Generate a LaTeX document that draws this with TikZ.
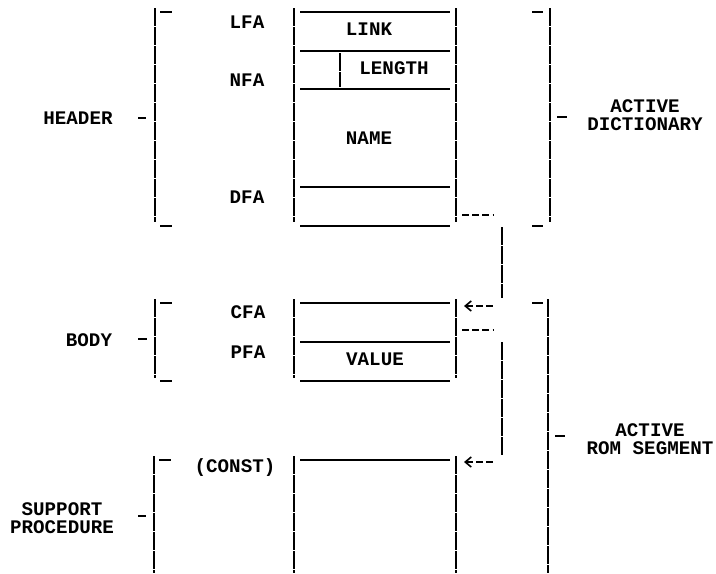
\documentclass[tikz,border=0pt]{standalone}
\usepackage{fontspec}
\setmonofont{Liberation Mono}
\usetikzlibrary{arrows.meta}

\begin{document}
\begin{tikzpicture}[x=0.5pt, y=-0.5pt,
    lbl/.style={font=\ttfamily\bfseries\fontsize{9.6}{9}\selectfont, align=center, inner sep=0pt},
    rule/.style={line width=0.8pt},
    bar/.style={line width=0.8pt, dash pattern=on 8.8pt off 0.7pt},
    ptr/.style={line width=0.8pt, dash pattern=on 3.5pt off 1.6pt}]
    \useasboundingbox (0,0) rectangle (716,573);

    % header cells
    \draw[bar] (294,8) -- (294,222);
    \draw[bar] (456,8) -- (456,222);
    \foreach \y in {12,51,89,187,226}
        \draw[rule] (300,\y) -- (450,\y);
    \draw[bar] (340,53) -- (340,87);
    \node[lbl] (link) at (369,29) {LINK};
    \node[lbl] (length) at (394,68) {LENGTH};
    \node[lbl] (name) at (369,138) {NAME};
    \node[lbl] (lfa) at (247,22) {LFA};
    \node[lbl] (nfa) at (247,80) {NFA};
    \node[lbl] (dfa) at (247,197) {DFA};

    % body cells
    \draw[bar] (294,299) -- (294,378);
    \draw[bar] (456,299) -- (456,378);
    \foreach \y in {303,342,381}
        \draw[rule] (300,\y) -- (450,\y);
    \node[lbl] (value) at (375,359) {VALUE};
    \node[lbl] (cfa) at (248,312) {CFA};
    \node[lbl] (pfa) at (248,352) {PFA};

    % support procedure
    \draw[bar] (294,456) -- (294,573);
    \draw[bar] (456,456) -- (456,573);
    \draw[rule] (300,460) -- (450,460);
    \node[lbl] (const) at (235,468) {(CONST)};

    % left brackets
    \draw[bar] (155,8) -- (155,222);
    \draw[rule] (160,12) -- (172,12);
    \draw[rule] (160,226) -- (172,226);
    \draw[rule] (138,118) -- (146,118);
    \node[lbl] (header) at (78,118) {HEADER};

    \draw[bar] (155,299) -- (155,378);
    \draw[rule] (160,303) -- (172,303);
    \draw[rule] (160,381) -- (172,381);
    \draw[rule] (138,339) -- (147,339);
    \node[lbl] (body) at (89,340) {BODY};

    \draw[bar] (154,456) -- (154,573);
    \draw[rule] (159,460) -- (171,460);
    \draw[rule] (138,516) -- (146,516);
    \node[lbl] (support) at (62,518) {SUPPORT\\PROCEDURE};

    % right brackets
    \draw[bar] (550,8) -- (550,222);
    \draw[rule] (532,12) -- (543,12);
    \draw[rule] (532,226) -- (543,226);
    \draw[rule] (557,117) -- (567,117);
    \node[lbl] (dict) at (645,115) {ACTIVE\\DICTIONARY};

    \draw[bar] (548,299) -- (548,573);
    \draw[rule] (532,303) -- (543,303);
    \draw[rule] (555,436) -- (565,436);
    \node[lbl] (rom) at (650,439) {ACTIVE\\ROM SEGMENT};

    % pointers
    \coordinate (dfaout) at (462,215);
    \coordinate (cfain) at (464,306);
    \coordinate (cfaout) at (462,330);
    \coordinate (constin) at (464,462);
    \draw[ptr] (dfaout) -- (dfaout -| 494,0);
    \draw[bar] (502,227) -- (502,298);
    \draw[ptr, {Straight Barb[length=3pt, width=5pt]}-] (cfain) -- (cfain -| 494,0);
    \draw[ptr] (cfaout) -- (cfaout -| 494,0);
    \draw[bar] (502,342) -- (502,455);
    \draw[ptr, {Straight Barb[length=3pt, width=5pt]}-] (constin) -- (constin -| 494,0);
\end{tikzpicture}
\end{document}
